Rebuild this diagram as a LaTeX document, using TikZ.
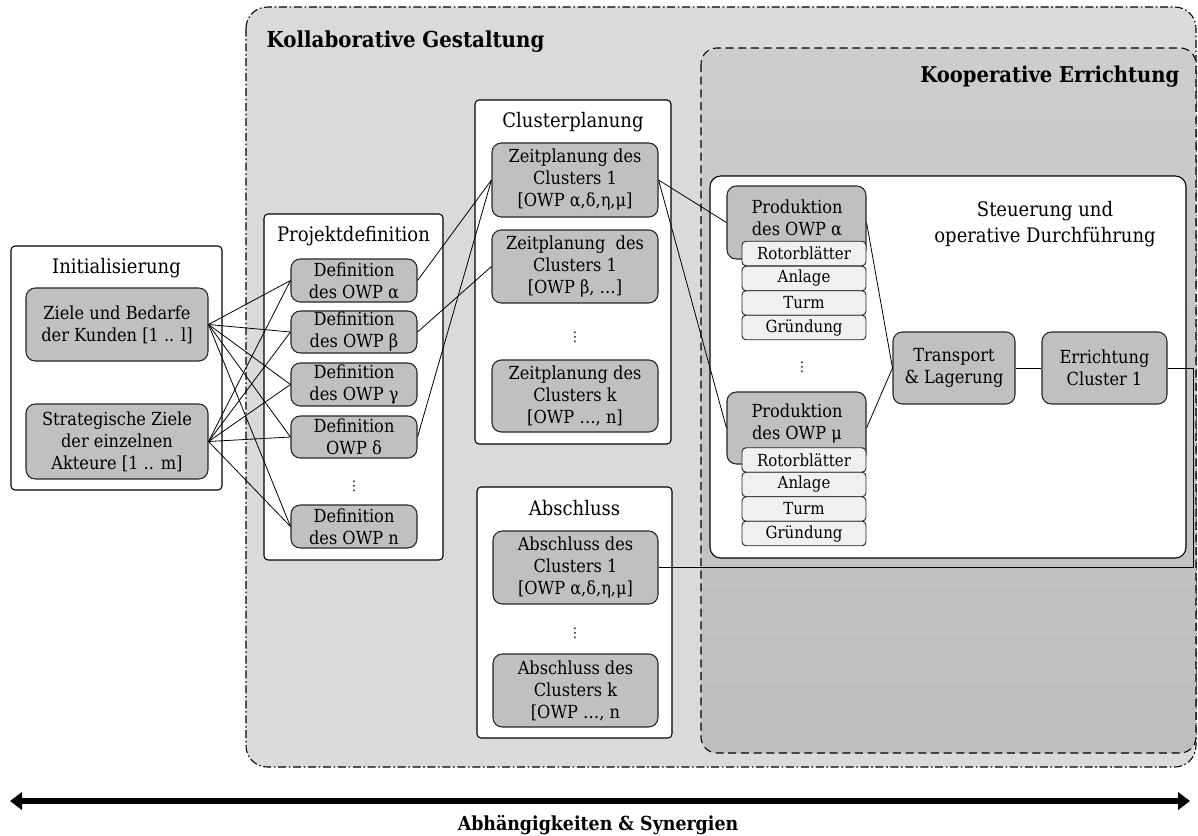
\documentclass[tikz,border=0pt]{standalone}
\usepackage{fontspec}
\setmainfont{DejaVu Serif Condensed}
\newfontfamily\symfont{DejaVu Sans}
\usetikzlibrary{arrows.meta}
\definecolor{kollafill}{HTML}{DADADA}
\definecolor{kooptop}{HTML}{CDCDCD}
\definecolor{koopbot}{HTML}{BEBEBE}
\definecolor{boxgrey}{HTML}{C0C0C0}
\definecolor{compfill}{HTML}{F0F0F0}
\begin{document}
\begin{tikzpicture}[x=0.75pt,y=-0.75pt,
  wh/.style 2 args={minimum width=#1*0.75pt, minimum height=#2*0.75pt},
  frame/.style={draw=black, fill=white, rounded corners=3pt, line width=0.8pt, inner sep=0},
  gbox/.style={draw=black!85, fill=boxgrey, rounded corners=7pt, line width=0.8pt,
    inner sep=0, align=center, font=\fontsize{13.5}{16.5}\selectfont},
  comp/.style={draw=black!85, fill=compfill, rounded corners=3pt, line width=0.7pt,
    inner sep=0, font=\fontsize{12.5}{14}\selectfont, wh={124}{24.5}},
  ttl/.style={font=\fontsize{15}{18}\selectfont},
  vdot/.style={font=\symfont\fontsize{10}{11}\selectfont, inner sep=0},
  link/.style={draw=black, line width=0.6pt},
]
\useasboundingbox (0,0) rectangle (1198,835);

% collaborative design area
\draw[fill=kollafill, line width=0.8pt, rounded corners=16pt,
  dash pattern=on 6pt off 2pt on 1.2pt off 2pt] (246,7) rectangle (1196,767);
\node[anchor=west, font=\bfseries\fontsize{16.5}{20}\selectfont] (tkolla) at (262,42) {Kollaborative Gestaltung};

% cooperative construction area
\draw[top color=kooptop, bottom color=koopbot, line width=0.8pt, rounded corners=12pt,
  dash pattern=on 6pt off 3.5pt] (701,48) rectangle (1196,753);
\node[anchor=east, font=\bfseries\fontsize{16.3}{20}\selectfont] (tkoop) at (1184,77) {Kooperative Errichtung};

% initialisation
\node[frame, wh={211}{244}] (init) at (116.5,368) {};
\node[ttl] (tinit) at (116.5,268) {Initialisierung};
\node[gbox, wh={182}{73}] (ziele) at (117,324.5) {Ziele und Bedarfe\\der Kunden [1 .. l]};
\node[gbox, wh={182}{75}] (strat) at (117,441.5) {Strategische Ziele\\der einzelnen\\Akteure [1 .. m]};

% project definition
\node[frame, wh={179}{346}] (proj) at (353.5,387) {};
\node[ttl] (tproj) at (353.5,236) {Projektdefinition};
\node[gbox, wh={126}{43}] (da) at (354,280.5) {Definition\\des OWP α};
\node[gbox, wh={126}{42}] (db) at (354,332) {Definition\\des OWP β};
\node[gbox, wh={126}{43}] (dg) at (354,384.5) {Definition\\des OWP γ};
\node[gbox, wh={126}{42}] (dd) at (354,437) {Definition\\OWP δ};
\node[vdot] (dvd) at (354,486) {⋮};
\node[gbox, wh={126}{43}] (dn) at (354,526.5) {Definition\\des OWP n};

% cluster planning
\node[frame, wh={196}{344}] (clus) at (573,272) {};
\node[ttl] (tclus) at (573,122) {Clusterplanung};
\node[gbox, wh={166}{74}] (z1) at (575,180) {Zeitplanung des\\Clusters 1\\{[OWP α,δ,η,μ]}};
\node[gbox, wh={166}{73}] (z2) at (575,266.5) {Zeitplanung\ \ des\\Clusters 1\\{[OWP β, …]}};
\node[vdot] (zvd) at (575,337) {⋮};
\node[gbox, wh={166}{72}] (zk) at (575,396) {Zeitplanung des\\Clusters k\\{[OWP …, n]}};

% closing
\node[frame, wh={195}{251}] (absch) at (574.5,612.5) {};
\node[ttl] (tabsch) at (574.5,508) {Abschluss};
\node[gbox, wh={165}{73}] (ab1) at (575.5,567.5) {Abschluss des\\Clusters 1\\{[OWP α,δ,η,μ]}};
\node[vdot] (avd) at (575,633) {⋮};
\node[gbox, wh={165}{73}] (abk) at (575.5,690.5) {Abschluss des\\Clusters k\\{[OWP …, n}};

% control and operative execution
\node[frame, rounded corners=8pt, wh={476}{382}] (steu) at (948,367) {};
\node[ttl, align=center, font=\fontsize{15}{20}\selectfont] (tsteu) at (1045,224) {Steuerung und\\operative Durchführung};

% production OWP alpha
\node[gbox, wh={139}{73}] (pa) at (796.5,222.5) {};
\node[align=center, font=\fontsize{13.5}{16.5}\selectfont] (tpa) at (797,218) {Produktion\\des OWP α};
\node[comp] (pa1) at (804,253.5) {Rotorblätter};
\node[comp] (pa2) at (804,278.5) {Anlage};
\node[comp] (pa3) at (804,303) {Turm};
\node[comp] (pa4) at (804,327.5) {Gründung};
\node[vdot] (pvd) at (802,367) {⋮};

% production OWP mu
\node[gbox, wh={139}{72}] (pm) at (796.5,428) {};
\node[align=center, font=\fontsize{13.5}{16.5}\selectfont] (tpm) at (797,424) {Produktion\\des OWP μ};
\node[comp] (pm1) at (804,460) {Rotorblätter};
\node[comp] (pm2) at (804,484.5) {Anlage};
\node[comp] (pm3) at (804,509) {Turm};
\node[comp] (pm4) at (804,533.5) {Gründung};

% transport and erection
\node[gbox, wh={122}{72}] (tr) at (954,368) {Transport\\\& Lagerung};
\node[gbox, wh={125}{72}] (err) at (1104.5,368) {Errichtung\\Cluster 1};

% connections
\foreach \d in {da,db,dg,dd,dn}{
  \draw[link] (ziele.east) -- (\d.west);
  \draw[link] (strat.east) -- (\d.west);
}
\draw[link] (da.east) -- (z1.west);
\draw[link] (dd.east) -- (z1.west);
\draw[link] (db.east) -- (z2.west);
\draw[link] (z1.east) -- (pa.west);
\draw[link] (z1.east) -- (pm.west);
\draw[link] (pa.east) -- (tr.west);
\draw[link] (pm.east) -- (tr.west);
\draw[link] (tr.east) -- (err.west);
\coordinate (bend) at (1193,567.5);
\draw[link] (ab1.east) -- (bend) |- (err.east);

% dependencies and synergies
\coordinate (arrL) at (10,801);
\coordinate (arrR) at (1190,801);
\draw[line width=4.5pt, {Triangle[length=9pt,width=13pt]}-{Triangle[length=9pt,width=13pt]}] (arrL) -- (arrR);
\node[font=\bfseries\fontsize{14.5}{16}\selectfont] (tdep) at (598,825) {Abhängigkeiten \& Synergien};
\end{tikzpicture}
\end{document}
